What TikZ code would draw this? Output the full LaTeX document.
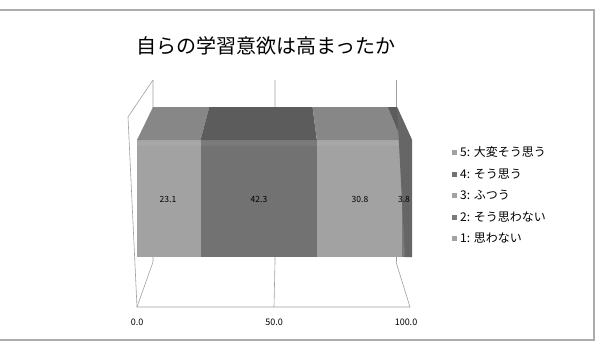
\documentclass[tikz,border=0pt]{standalone}
\usepackage{fontspec}
\newfontfamily\jpfont{Noto Sans CJK JP}
\definecolor{frontL}{HTML}{A2A2A2}
\definecolor{topL}{HTML}{878787}
\definecolor{frontD}{HTML}{727272}
\definecolor{topD}{HTML}{5C5C5C}
\definecolor{frontM}{HTML}{7A7A7A}
\definecolor{sideD}{HTML}{666666}
\definecolor{wallline}{HTML}{A0A0A0}
\tikzset{
  val/.style={font=\jpfont\fontsize{8.5}{9}\selectfont, inner sep=0pt},
  tick/.style={font=\jpfont\fontsize{9}{10}\selectfont, inner sep=0pt},
  legtext/.style={font=\jpfont\fontsize{12}{13}\selectfont, anchor=west, inner sep=0pt}
}
\begin{document}
\begin{tikzpicture}[x=1pt,y=-1pt]
	\useasboundingbox (0,0) rectangle (610,349);
	% frame
	\draw[gray!65,line width=1.6pt] (-2,10) -- (594,10) -- (594,340) -- (-2,340);
	\node[inner sep=0pt] (title) at (266,46) {\jpfont\fontsize{20}{24}\selectfont 自らの学習意欲は高まったか};
	% walls and floor
	\draw[wallline,line width=0.6pt] (153,80) -- (128,117) -- (137,307);
	\draw[wallline,line width=0.6pt] (153,80) -- (153,262) -- (137,307) -- (410,307) -- (396,262);
	\draw[wallline,line width=0.6pt] (275,80) -- (275,262) -- (274,307);
	\draw[wallline,line width=0.6pt] (396,80) -- (396,262);
	% bar
	\foreach \a/\b/\fc/\tc in {0/23.1/frontL/topL, 23.1/65.4/frontD/topD, 65.4/96.2/frontL/topL, 96.2/100/frontM/topD}{
		\fill[\fc] (137+2.75*\a,140) rectangle (137+2.75*\b,257);
		\fill[\tc] (137+2.75*\a,140) -- (153+2.44*\a,107) -- (153+2.44*\b,107) -- (137+2.75*\b,140) -- cycle;
		\fill[white,opacity=0.06] (137+2.75*\a,140) rectangle (137+2.75*\b,146);
	}
	\fill[sideD] (397,107) -- (412,140) -- (412,257) -- (405,257) -- cycle;
	\node[val] (v1) at (168,199) {23.1};
	\node[val] (v2) at (259,199) {42.3};
	\node[val] (v3) at (360,199) {30.8};
	\node[val] (v4) at (404,199) {3.8};
	% axis
	\node[tick] (t0) at (137,322) {0.0};
	\node[tick] (t50) at (274,322) {50.0};
	\node[tick] (t100) at (406,322) {100.0};
	% legend
	\foreach \i/\y/\c/\txt in {5/152/frontL/5: 大変そう思う, 4/174/frontD/4: そう思う, 3/195/frontL/3: ふつう, 2/217/frontM/2: そう思わない, 1/238/frontL/1: 思わない}{
		\fill[\c] (452,\y-2.5) rectangle (457,\y+2.5);
		\node[legtext] (leg\i) at (460,\y) {\txt};
	}
\end{tikzpicture}
\end{document}
